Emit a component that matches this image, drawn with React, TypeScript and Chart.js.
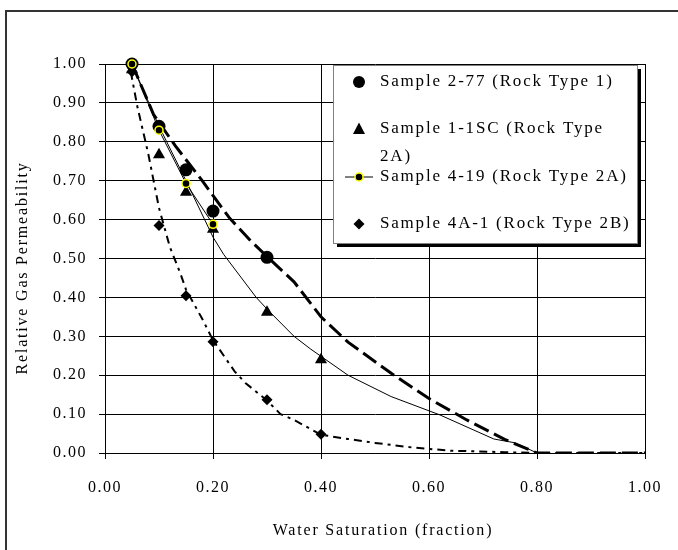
import React, { useEffect, useRef } from 'react';
import { Chart, registerables } from 'chart.js';

Chart.register(...registerables);

const FONT = "'Liberation Serif', 'Times New Roman', serif";

// Axis ticks
const xTickValues = [0, 0.2, 0.4, 0.6, 0.8, 1.0];
const yTickValues = [0, 0.1, 0.2, 0.3, 0.4, 0.5, 0.6, 0.7, 0.8, 0.9, 1.0];

// Measured points
const s277X = [0.05, 0.10, 0.15, 0.20, 0.30];
const s277Y = [1.00, 0.84, 0.728, 0.622, 0.503];

const s11scX = [0.05, 0.10, 0.15, 0.20, 0.30, 0.40];
const s11scY = [0.985, 0.767, 0.67, 0.575, 0.362, 0.24];

const s419X = [0.05, 0.10, 0.15, 0.20];
const s419Y = [1.00, 0.83, 0.693, 0.588];

const s4a1X = [0.05, 0.10, 0.15, 0.20, 0.30, 0.40];
const s4a1Y = [0.98, 0.585, 0.404, 0.286, 0.137, 0.048];

// Fitted curves
const fit277X = [0.05, 0.09, 0.13, 0.18, 0.23, 0.27, 0.30, 0.35, 0.40, 0.45, 0.53, 0.60, 0.67, 0.74, 0.80, 1.00];
const fit277Y = [1.00, 0.87, 0.79, 0.70, 0.605, 0.545, 0.505, 0.44, 0.35, 0.285, 0.205, 0.14, 0.085, 0.035, 0.0, 0.0];

const fit11scX = [0.05, 0.10, 0.15, 0.20, 0.22, 0.25, 0.28, 0.30, 0.35, 0.38, 0.45, 0.53, 0.62, 0.72, 0.76, 0.80];
const fit11scY = [1.00, 0.84, 0.70, 0.555, 0.51, 0.455, 0.40, 0.37, 0.30, 0.268, 0.20, 0.145, 0.098, 0.036, 0.026, 0.0];

const fit4a1X = [0.045, 0.06, 0.08, 0.09, 0.10, 0.12, 0.14, 0.15, 0.18, 0.20, 0.24, 0.26, 0.30, 0.325, 0.35, 0.40, 0.45, 0.50, 0.57, 0.64, 0.74, 0.80, 1.00];
const fit4a1Y = [1.00, 0.89, 0.77, 0.70, 0.63, 0.53, 0.46, 0.42, 0.345, 0.29, 0.21, 0.18, 0.135, 0.10, 0.085, 0.047, 0.036, 0.026, 0.014, 0.006, 0.002, 0.0, 0.0];

const legendLabels: (string | string[])[] = [
  'Sample 2-77 (Rock Type 1)',
  ['Sample 1-1SC (Rock Type', '2A)'],
  'Sample 4-19 (Rock Type 2A)',
  'Sample 4A-1 (Rock Type 2B)',
];

const xAxisTitle = 'Water Saturation (fraction)';
const yAxisTitle = 'Relative Gas Permeability';

const pts = (xs: number[], ys: number[]) => xs.map((x, i) => ({ x, y: ys[i] }));

const framePlugin = {
  id: 'frame',
  beforeDraw(chart: any) {
    const ctx = chart.ctx;
    ctx.letterSpacing = '1.5px';
    ctx.save();
    ctx.strokeStyle = '#333';
    ctx.lineWidth = 2;
    ctx.strokeRect(6, 11, 720, 600);
    ctx.restore();
  },
};

const titlesPlugin = {
  id: 'axisTitles',
  afterDraw(chart: any) {
    const ctx = chart.ctx;
    ctx.save();
    ctx.font = `16px ${FONT}`;
    ctx.letterSpacing = '1.8px';
    ctx.fillStyle = '#000';
    ctx.textAlign = 'center';
    ctx.textBaseline = 'middle';
    ctx.fillText(xAxisTitle, 383, 531);
    ctx.translate(23, 268);
    ctx.rotate(-Math.PI / 2);
    ctx.fillText(yAxisTitle, 0, 0);
    ctx.restore();
  },
};

const legendPlugin = {
  id: 'boxLegend',
  afterDraw(chart: any) {
    const ctx = chart.ctx;
    ctx.save();
    const bx = 333, by = 65, bw = 304, bh = 178;
    ctx.fillStyle = '#000';
    ctx.fillRect(bx + 4, by + 4, bw, bh);
    ctx.fillStyle = '#fff';
    ctx.fillRect(bx, by, bw, bh);
    ctx.strokeStyle = '#808080';
    ctx.lineWidth = 1;
    ctx.strokeRect(bx + 0.5, by + 0.5, bw, bh);

    ctx.font = `17px ${FONT}`;
    ctx.letterSpacing = '1.8px';
    ctx.fillStyle = '#000';
    ctx.textAlign = 'left';
    ctx.textBaseline = 'middle';
    const tx = 380, mx = 359;
    const rows = [82, 129, 177, 224];

    ctx.beginPath();
    ctx.arc(mx, rows[0], 6, 0, Math.PI * 2);
    ctx.fill();

    ctx.beginPath();
    ctx.moveTo(mx, rows[1] - 6.5);
    ctx.lineTo(mx + 6, rows[1] + 5);
    ctx.lineTo(mx - 6, rows[1] + 5);
    ctx.closePath();
    ctx.fill();

    ctx.strokeStyle = '#000';
    ctx.lineWidth = 1;
    ctx.beginPath();
    ctx.moveTo(345, rows[2]);
    ctx.lineTo(373, rows[2]);
    ctx.stroke();
    ctx.beginPath();
    ctx.arc(mx, rows[2], 4, 0, Math.PI * 2);
    ctx.fill();
    ctx.strokeStyle = '#ffff00';
    ctx.lineWidth = 1.5;
    ctx.stroke();

    ctx.beginPath();
    ctx.moveTo(mx, rows[3] - 5.5);
    ctx.lineTo(mx + 5.5, rows[3]);
    ctx.lineTo(mx, rows[3] + 5.5);
    ctx.lineTo(mx - 5.5, rows[3]);
    ctx.closePath();
    ctx.fill();

    ctx.fillText(legendLabels[0] as string, tx, rows[0]);
    const l2 = legendLabels[1] as string[];
    ctx.fillText(l2[0], tx, rows[1]);
    ctx.fillText(l2[1], tx, 157);
    ctx.fillText(legendLabels[2] as string, tx, rows[2]);
    ctx.fillText(legendLabels[3] as string, tx, rows[3]);
    ctx.restore();
  },
};

export default function App() {
  const ref = useRef<HTMLCanvasElement | null>(null);

  useEffect(() => {
    if (!ref.current) return;
    const chart = new Chart(ref.current, {
      type: 'scatter',
      data: {
        datasets: [
          {
            label: 'Sample 4-19 (Rock Type 2A)',
            data: pts(s419X, s419Y),
            showLine: true,
            borderColor: '#000',
            borderWidth: 1,
            pointStyle: 'circle',
            pointRadius: 4,
            pointBackgroundColor: '#000',
            pointBorderColor: '#ffff00',
            pointBorderWidth: 1.5,
            clip: false,
            order: 0,
          },
          {
            label: 'Sample 2-77 (Rock Type 1)',
            data: pts(s277X, s277Y),
            showLine: false,
            pointStyle: 'circle',
            pointRadius: 6.5,
            pointBackgroundColor: '#000',
            pointBorderColor: '#000',
            pointBorderWidth: 0,
            clip: false,
            order: 1,
          },
          {
            label: 'Sample 1-1SC (Rock Type 2A)',
            data: pts(s11scX, s11scY),
            showLine: false,
            pointStyle: 'triangle',
            pointRadius: 7,
            pointBackgroundColor: '#000',
            pointBorderColor: '#000',
            pointBorderWidth: 0,
            clip: false,
            order: 2,
          },
          {
            label: 'Sample 4A-1 (Rock Type 2B)',
            data: pts(s4a1X, s4a1Y),
            showLine: false,
            pointStyle: 'rectRot',
            pointRadius: 5.5,
            pointBackgroundColor: '#000',
            pointBorderColor: '#000',
            pointBorderWidth: 0,
            clip: false,
            order: 3,
          },
          {
            label: 'fit 2-77',
            data: pts(fit277X, fit277Y),
            showLine: true,
            pointRadius: 0,
            borderColor: '#000',
            borderWidth: 3,
            borderDash: [16, 6],
            order: 4,
          },
          {
            label: 'fit 1-1SC',
            data: pts(fit11scX, fit11scY),
            showLine: true,
            pointRadius: 0,
            borderColor: '#000',
            borderWidth: 1,
            order: 5,
          },
          {
            label: 'fit 4A-1',
            data: pts(fit4a1X, fit4a1Y),
            showLine: true,
            pointRadius: 0,
            borderColor: '#000',
            borderWidth: 2,
            borderDash: [3, 5, 8, 5],
            order: 6,
          },
        ],
      },
      options: {
        responsive: false,
        animation: false,
        devicePixelRatio: 1,
        layout: { padding: { top: 64, right: 31, left: 0, bottom: 0 } },
        plugins: {
          legend: { display: false },
          tooltip: { enabled: false },
        },
        scales: {
          x: {
            type: 'linear',
            min: 0,
            max: 1,
            afterBuildTicks: (scale: any) => {
              scale.ticks = xTickValues.map((v) => ({ value: v }));
            },
            afterFit: (scale: any) => {
              scale.height = 97;
            },
            ticks: {
              callback: (v: any) => Number(v).toFixed(2),
              color: '#000',
              font: { family: FONT, size: 16 },
              padding: 19,
              maxRotation: 0,
            },
            grid: { color: '#000', lineWidth: 1, tickLength: 6, tickColor: '#000' },
            border: { color: '#000', width: 1 },
            title: { display: false, text: xAxisTitle },
          },
          y: {
            type: 'linear',
            min: 0,
            max: 1,
            afterBuildTicks: (scale: any) => {
              scale.ticks = yTickValues.map((v) => ({ value: v }));
            },
            afterFit: (scale: any) => {
              scale.width = 105;
            },
            ticks: {
              callback: (v: any) => Number(v).toFixed(2),
              color: '#000',
              font: { family: FONT, size: 16 },
              padding: 12,
            },
            grid: { color: '#000', lineWidth: 1, tickLength: 6, tickColor: '#000' },
            border: { color: '#000', width: 1 },
            title: { display: false, text: yAxisTitle },
          },
        },
      },
      plugins: [framePlugin, titlesPlugin, legendPlugin],
    } as any);
    return () => chart.destroy();
  }, []);

  return (
    <div style={{ position: 'absolute', left: 0, top: 0, width: 678, height: 550, background: '#fff' }}>
      <canvas ref={ref} width={678} height={550} />
    </div>
  );
}
